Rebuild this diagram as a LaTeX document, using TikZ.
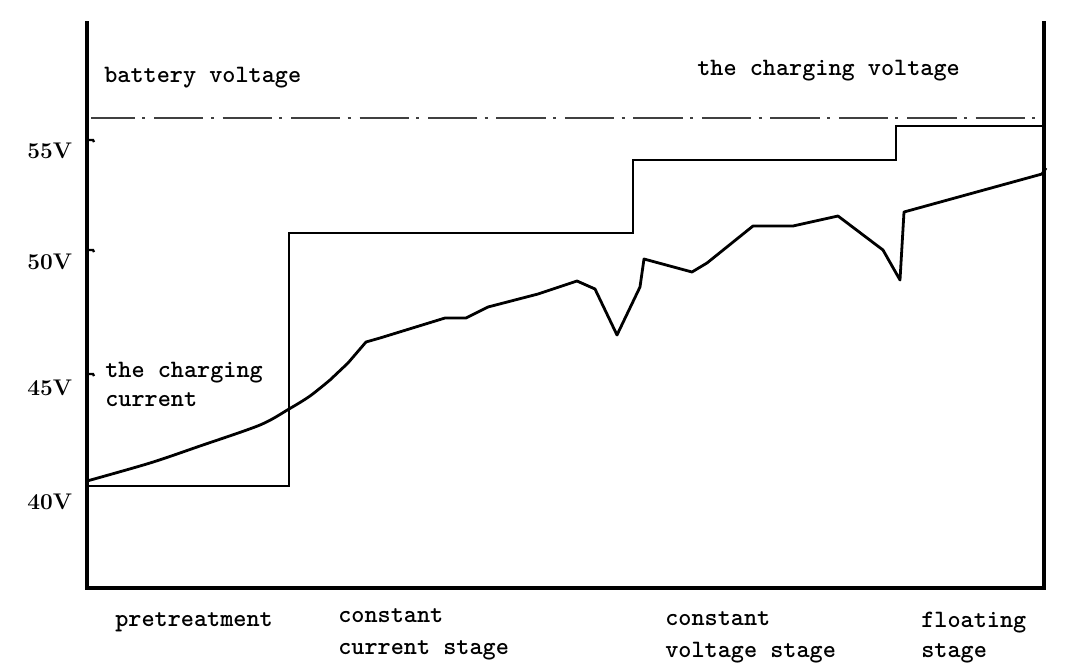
\documentclass[tikz,border=0pt]{standalone}
\usepackage{fontspec}
\begin{document}
\begin{tikzpicture}[x=0.75pt,y=-0.75pt,
  axisline/.style={line width=2.4pt, line join=miter},
  stepline/.style={line width=2.2pt, line join=miter},
  curveline/.style={line width=2.1pt, line join=round},
  refline/.style={line width=1.2pt, draw=black!75, dash pattern=on 37pt off 5.5pt on 2.25pt off 6.6pt, dash phase=4pt},
  tickline/.style={line width=1.8pt},
  lbl/.style={font=\fontsize{18.75}{22}\selectfont\ttfamily\bfseries, inner sep=0pt, anchor=base west},
  ylbl/.style={font=\fontsize{17}{20}\selectfont\rmfamily\bfseries, inner sep=0pt, anchor=base west}]
\useasboundingbox[fill=white] (0,0) rectangle (1065,668);
% axes frame
\coordinate (tl) at (87,21);
\coordinate (bl) at (87,588);
\coordinate (br) at (1044,588);
\coordinate (tr) at (1044,21);
\draw[axisline] (tl) -- (bl) -- (br) -- (tr);
% ticks
\draw[tickline] (87,140) -- (93,140) -- (94,142);
\draw[tickline] (87,250) -- (93,250) -- (94,252);
\draw[tickline] (87,374) -- (93,374) -- (94,376);
% reference dash-dot line
\coordinate (r1) at (91,118);
\coordinate (r2) at (1042,118);
\draw[refline] (r1) -- (r2);
% step line
\draw[stepline] (87,486) -- (289,486) -- (289,233) -- (633,233) -- (633,160) -- (896,160) -- (896,126) -- (1042,126);
% voltage curve
\draw[curveline] plot[smooth, tension=0.5] coordinates {(87,481) (150,463) (200,446) (260,425) (289,409) (310,396) (330,380)}
  -- (348,363) -- (366,342) -- (380,338) -- (445,318) -- (466,318) -- (488,307) -- (538,294) -- (577,281) -- (595,289)
  -- (617,335) -- (640,287) -- (644,259) -- (692,272) -- (707,263) -- (753,226) -- (793,226) -- (838,216)
  -- (883,250) -- (900,280) -- (904,212) -- (1042,174) -- (1046,168);
% labels
\node[lbl] (bv) at (104,82) {battery voltage};
\node[lbl] (cv) at (697,75) {the charging voltage};
\node[lbl] (cc1) at (105,377) {the charging};
\node[lbl] (cc2) at (105,406) {current};
\node[lbl] (pt) at (115,626) {pretreatment};
\node[lbl] (cs1) at (338,622) {constant};
\node[lbl] (cs2) at (338,654) {current stage};
\node[lbl] (vs1) at (665,625) {constant};
\node[lbl] (vs2) at (665,657) {voltage stage};
\node[lbl] (fs1) at (921,627) {floating};
\node[lbl] (fs2) at (921,657) {stage};
\node[ylbl] (y55) at (27,158) {55V};
\node[ylbl] (y50) at (27,269) {50V};
\node[ylbl] (y45) at (27,395) {45V};
\node[ylbl] (y40) at (27,509) {40V};
\end{tikzpicture}
\end{document}
